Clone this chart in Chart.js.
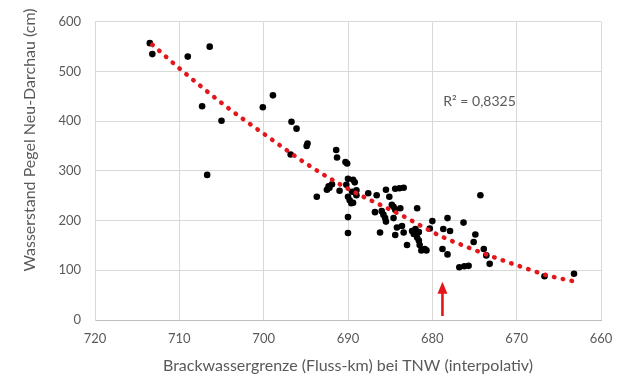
<!DOCTYPE html>
<html>
<head>
<meta charset="utf-8">
<script src="https://cdn.jsdelivr.net/npm/chart.js@4/dist/chart.umd.min.js"></script>
<style>
  html, body { margin: 0; padding: 0; background: #fff; }
  canvas { display: block; }
</style>
</head>
<body>
<canvas id="chart" width="630" height="376"></canvas>
<script>
// --- DATA ---
const kmValues = [
  713.5, 713.2, 709.0, 706.4, 707.3, 705.0, 706.7, 700.1, 698.9, 696.7,
  696.1, 694.8, 694.9, 696.8, 691.4, 691.3, 690.3, 690.1, 690.0, 689.4,
  689.2, 692.3, 691.9, 692.2, 692.5, 693.7, 691.0, 690.0, 689.8, 689.6,
  689.4, 689.0, 689.0, 690.0, 690.0, 687.6, 686.6, 685.5, 685.1, 684.4,
  683.9, 683.4, 686.8, 686.0, 685.8, 685.6, 685.5, 684.8, 684.6, 683.8,
  684.6, 686.2, 684.4, 681.8, 680.0, 678.2, 676.3, 674.9, 675.1, 674.3,
  684.2, 683.6, 683.4, 682.4, 682.2, 682.0, 681.6, 683.0, 681.6, 681.5,
  681.3, 680.9, 680.7, 680.3, 678.7, 677.9, 678.8, 678.2, 676.8, 676.2,
  675.7, 673.9, 673.6, 673.2, 666.7, 663.2, 690.2, 689.5, 681.8, 684.4
];
const pegelValues = [
  557, 535, 530, 550, 430, 401, 292, 428, 452, 399,
  385, 355, 350, 333, 342, 327, 318, 315, 284, 282,
  277, 269, 273, 266, 262, 248, 260, 248, 241, 235,
  236, 261, 251, 207, 175, 255, 251, 262, 248, 264,
  265, 266, 217, 219, 212, 205, 198, 232, 228, 225,
  205, 176, 171, 225, 199, 205, 196, 172, 157, 251,
  186, 189, 176, 179, 173, 183, 177, 151, 160, 151,
  140, 143, 140, 184, 183, 179, 143, 132, 106, 108,
  109, 143, 130, 113, 88, 93, 272, 258, 166, 222
];

// trend line as it appears in the picture
const trendKm = [713.2, 709.7, 704.4, 699.6, 694.9, 690.0, 683.8, 678.9, 675.9, 672.8, 669.6, 666.4, 663.3];
const trendPegel = [554, 502, 429, 370, 314, 264, 212, 168, 147, 127, 108, 90, 78];

const xTickValues = [720, 710, 700, 690, 680, 670, 660];
const yTickValues = [0, 100, 200, 300, 400, 500, 600];

const xTitle = 'Brackwassergrenze (Fluss-km) bei TNW (interpolativ)';
const yTitle = 'Wasserstand Pegel Neu-Darchau (cm)';

const r2Label = 'R² = 0,8325';
const r2Km = 678.7;
const r2Pegel = 440;

const arrowKm = 678.8;
const arrowFrom = 8;
const arrowTo = 77;

// --- STYLE ---
const FONT = 'Lato';
const TEXT_GREY = '#595959';
const GRID_GREY = '#d9d9d9';
const RED = '#e3161c';

Chart.defaults.font.family = FONT;
Chart.defaults.color = TEXT_GREY;

// --- EXTRAS: arrow, R² label, y title (Excel puts it off-centre) ---
const extras = {
  id: 'extras',
  afterDatasetsDraw(chart) {
    const { ctx, scales: { x, y } } = chart;
    const ax = x.getPixelForValue(arrowKm);
    const yBottom = y.getPixelForValue(arrowFrom);
    const yTip = y.getPixelForValue(arrowTo);
    ctx.save();
    ctx.strokeStyle = RED;
    ctx.fillStyle = RED;
    ctx.lineWidth = 2.6;
    ctx.beginPath();
    ctx.moveTo(ax, yBottom);
    ctx.lineTo(ax, yTip + 10);
    ctx.stroke();
    ctx.beginPath();
    ctx.moveTo(ax, yTip);
    ctx.lineTo(ax - 5, yTip + 12);
    ctx.lineTo(ax + 5, yTip + 12);
    ctx.closePath();
    ctx.fill();

    ctx.fillStyle = TEXT_GREY;
    ctx.font = '14px ' + FONT;
    ctx.textBaseline = 'middle';
    ctx.textAlign = 'left';
    ctx.fillText(r2Label, x.getPixelForValue(r2Km), y.getPixelForValue(r2Pegel));

    ctx.font = '16px ' + FONT;
    ctx.textAlign = 'center';
    ctx.translate(30, 140);
    ctx.rotate(-Math.PI / 2);
    ctx.fillText(yTitle, 0, 0);
    ctx.restore();
  }
};

// --- CHART ---
const ctx = document.getElementById('chart').getContext('2d');
new Chart(ctx, {
  type: 'scatter',
  data: {
    datasets: [
      {
        label: 'Trend',
        type: 'line',
        data: trendKm.map((k, i) => ({ x: k, y: trendPegel[i] })),
        borderColor: RED,
        borderWidth: 4.5,
        borderDash: [0.5, 8.5],
        borderCapStyle: 'round',
        cubicInterpolationMode: 'monotone',
        pointRadius: 0,
        fill: false,
        order: 0
      },
      {
        label: 'Messwerte',
        data: kmValues.map((k, i) => ({ x: k, y: pegelValues[i] })),
        backgroundColor: '#000',
        borderColor: '#000',
        pointRadius: 3.3,
        borderWidth: 0,
        order: 1
      }
    ]
  },
  options: {
    responsive: false,
    animation: false,
    devicePixelRatio: 1,
    layout: { padding: { left: 0, right: 29, top: 13, bottom: 0 } },
    plugins: {
      legend: { display: false },
      tooltip: { enabled: false }
    },
    scales: {
      x: {
        type: 'linear',
        reverse: true,
        min: 660,
        max: 720,
        afterBuildTicks: s => { s.ticks = xTickValues.map(v => ({ value: v })); },
        afterFit: s => { s.height = 56; },
        grid: { color: GRID_GREY, drawTicks: false },
        border: { color: '#bfbfbf', width: 1 },
        ticks: { padding: 11, font: { size: 13 }, color: TEXT_GREY },
        title: {
          display: true,
          text: xTitle,
          font: { size: 16 },
          color: TEXT_GREY,
          padding: { top: 0, bottom: 1 }
        }
      },
      y: {
        type: 'linear',
        min: 0,
        max: 600,
        afterBuildTicks: s => { s.ticks = yTickValues.map(v => ({ value: v })); },
        afterFit: s => { s.width = 95; },
        grid: { color: GRID_GREY, drawTicks: false },
        border: { color: GRID_GREY, width: 1 },
        ticks: { padding: 14, font: { size: 13 }, color: TEXT_GREY }
      }
    }
  },
  plugins: [extras]
});
</script>
</body>
</html>
